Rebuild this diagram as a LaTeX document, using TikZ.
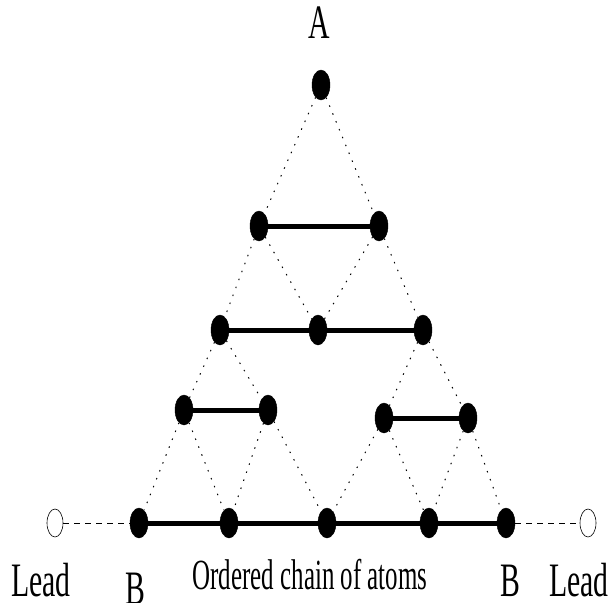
\documentclass[tikz,border=0pt]{standalone}
\usepackage{fontspec}
\setmainfont{Liberation Serif}
\usetikzlibrary{shapes.geometric}
\tikzset{
  atom/.style={ellipse, fill=black, draw=black, minimum width=18pt, minimum height=30pt, inner sep=0pt},
  leadatom/.style={ellipse, draw=black, fill=white, line width=0.6pt, minimum width=16pt, minimum height=28pt, inner sep=0pt},
  bond/.style={line width=5pt},
  link/.style={line width=1pt, dash pattern=on 1.5pt off 7pt, black},
  leadline/.style={line width=0.8pt, dash pattern=on 6pt off 5pt},
  label/.style={anchor=base, inner sep=0pt, font=\fontsize{48}{50}\selectfont},
  smalllabel/.style={anchor=base, inner sep=0pt, font=\fontsize{43}{45}\selectfont}
}
\newcommand{\squeeze}[1]{\scalebox{0.62}[1]{#1}}
\newcommand{\squeezemore}[1]{\scalebox{0.58}[1]{#1}}
\begin{document}
\begin{tikzpicture}[x=1pt,y=-1pt]
\useasboundingbox (0,0) rectangle (610,602);
% atoms
\node[atom] (a) at (321,85) {};
\node[atom] (b1) at (259,226) {};
\node[atom] (b2) at (379,226) {};
\node[atom] (c1) at (220,330) {};
\node[atom] (c2) at (318,330) {};
\node[atom] (c3) at (423,330) {};
\node[atom] (d1) at (184,410) {};
\node[atom] (d2) at (268,410) {};
\node[atom] (d3) at (384,418) {};
\node[atom] (d4) at (468,418) {};
\node[atom] (e1) at (139,523) {};
\node[atom] (e2) at (229,523) {};
\node[atom] (e3) at (327,523) {};
\node[atom] (e4) at (429,523) {};
\node[atom] (e5) at (506,523) {};
\node[leadatom] (l1) at (55,523) {};
\node[leadatom] (l2) at (588,523) {};
% dotted links
\draw[link] (a) -- (b1);
\draw[link] (a) -- (b2);
\draw[link] (b1) -- (c1);
\draw[link] (b1) -- (c2);
\draw[link] (b2) -- (c2);
\draw[link] (b2) -- (c3);
\draw[link] (c1) -- (d1);
\draw[link] (c1) -- (d2);
\draw[link] (c3) -- (d3);
\draw[link] (c3) -- (d4);
\draw[link] (d1) -- (e1);
\draw[link] (d1) -- (e2);
\draw[link] (d2) -- (e2);
\draw[link] (d2) -- (e3);
\draw[link] (d3) -- (e3);
\draw[link] (d3) -- (e4);
\draw[link] (d4) -- (e4);
\draw[link] (d4) -- (e5);
% bonds
\draw[bond] (b1) -- (b2);
\draw[bond] (c1) -- (c2);
\draw[bond] (c2) -- (c3);
\draw[bond] (d1) -- (d2);
\draw[bond] (d3) -- (d4);
\draw[bond] (e1) -- (e2);
\draw[bond] (e2) -- (e3);
\draw[bond] (e3) -- (e4);
\draw[bond] (e4) -- (e5);
% lead lines
\draw[leadline] (l1) -- (e1);
\draw[leadline] (e5) -- (l2);
% labels
\node[label] (tA) at (319,39) {\squeeze{A}};
\node[label] (tL1) at (41,596) {\squeeze{Lead}};
\node[label] (tB1) at (135,604) {\squeeze{B}};
\node[smalllabel] (tC) at (310,589) {\squeezemore{Ordered chain of atoms}};
\node[label] (tB2) at (510,596) {\squeeze{B}};
\node[label] (tL2) at (579,596) {\squeeze{Lead}};
\end{tikzpicture}
\end{document}
